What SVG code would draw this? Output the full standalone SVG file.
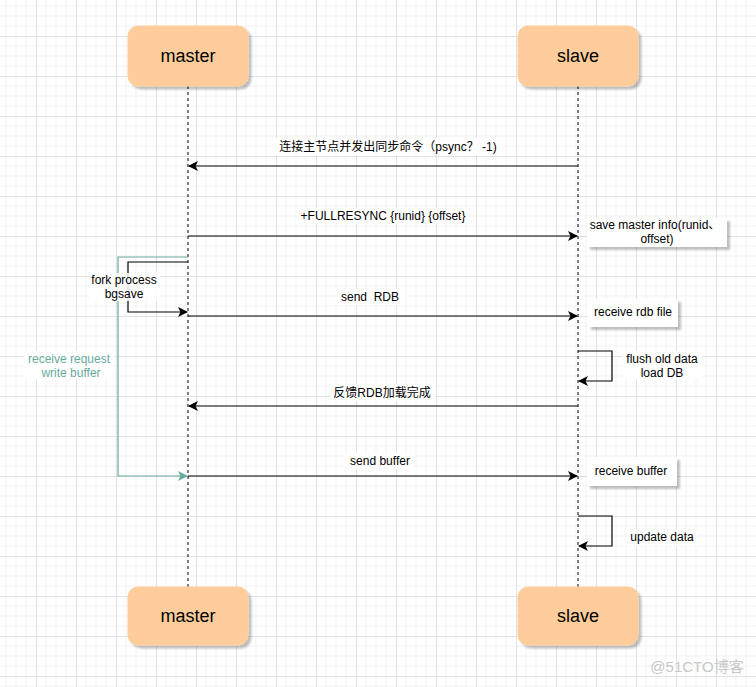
<svg xmlns="http://www.w3.org/2000/svg" width="756" height="687" viewBox="0 0 756 687">
<defs>
<pattern id="grid" x="36" y="36" width="40" height="40" patternUnits="userSpaceOnUse">
<path d="M10 0V40M20 0V40M30 0V40M0 10H40M0 20H40M0 30H40" stroke="#f3f3f3" stroke-width="1" fill="none"/>
<path d="M0.5 0V40M0 0.5H40" stroke="#e2e2e2" stroke-width="1" fill="none"/>
</pattern>
<marker id="ah" viewBox="0 0 10 10" refX="9" refY="5" markerWidth="10" markerHeight="10" markerUnits="userSpaceOnUse" orient="auto">
<path d="M0 0L10 5L0 10L2.5 5Z" fill="#000"/>
</marker>
<marker id="ahg" viewBox="0 0 10 10" refX="9" refY="5" markerWidth="10" markerHeight="10" markerUnits="userSpaceOnUse" orient="auto">
<path d="M0 0L10 5L0 10L2.5 5Z" fill="#67ab9f"/>
</marker>
<filter id="sh" x="-10%" y="-10%" width="130%" height="140%">
<feGaussianBlur in="SourceAlpha" stdDeviation="1"/>
<feOffset dx="3" dy="3"/>
<feComponentTransfer><feFuncA type="linear" slope="0.25"/></feComponentTransfer>
<feMerge><feMergeNode/><feMergeNode in="SourceGraphic"/></feMerge>
</filter>
</defs>
<style>
.t{font-family:"Liberation Sans","Noto Sans CJK SC",Arial,sans-serif;font-size:12px;fill:#000;text-anchor:middle;white-space:pre}
.big{font-size:18px}
.g{fill:#67ab9f}
.box{fill:#ffcd9b;stroke:#ffcd9b;filter:url(#sh)}
.note{fill:#fff;stroke:none;filter:url(#sh)}
.life{stroke:#000;stroke-width:1;stroke-dasharray:3 3;fill:none}
.msg{stroke:#000;stroke-width:1.2;fill:none;marker-end:url(#ah)}
.gm{stroke:#67ab9f;stroke-width:1.2;fill:none;marker-end:url(#ahg)}
.bg{fill:#fff}
</style>
<rect width="756" height="687" fill="#fff"/>
<rect width="756" height="687" fill="url(#grid)"/>

<g id="lifelines">
<line class="life" x1="188" y1="86" x2="188" y2="587"/>
<line class="life" x1="578" y1="86" x2="578" y2="587"/>
</g>

<g id="master-top"><rect class="box" x="128" y="26" width="120" height="60" rx="10"/><text class="t big" x="188" y="62">master</text></g>
<g id="slave-top"><rect class="box" x="518" y="26" width="120" height="60" rx="10"/><text class="t big" x="578" y="62">slave</text></g>
<g id="master-bottom"><rect class="box" x="128" y="587" width="120" height="58" rx="10"/><text class="t big" x="188" y="622">master</text></g>
<g id="slave-bottom"><rect class="box" x="518" y="587" width="120" height="58" rx="10"/><text class="t big" x="578" y="622">slave</text></g>

<g id="note-save"><rect class="note" x="587" y="218" width="140" height="29"/><text class="t" x="655" y="229">save master info(runid、</text><text class="t" x="657" y="243">offset)</text></g>
<g id="note-rdb"><rect class="note" x="588" y="299" width="90" height="28"/><text class="t" x="633" y="316">receive rdb file</text></g>
<g id="note-buffer"><rect class="note" x="587" y="457" width="90" height="29"/><text class="t" x="631" y="475">receive buffer</text></g>

<g id="connectors">
<path class="gm" d="M188 257H118V476H187"/>
<path class="msg" d="M578 166H189"/>
<path class="msg" d="M188 236H577"/>
<path class="msg" d="M188 262H128V312H187"/>
<path class="msg" d="M188 316H577"/>
<path class="msg" d="M578 351H612V381H579"/>
<path class="msg" d="M578 406H189"/>
<path class="msg" d="M188 476H577"/>
<path class="msg" d="M578 516H612V546H579"/>
</g>

<g id="labels">
<rect class="bg" x="275" y="138" width="228" height="17"/>
<text class="t" x="388" y="151">连接主节点并发出同步命令（psync？ -1)</text>
<rect class="bg" x="296" y="208" width="172" height="16"/>
<text class="t" x="383" y="220">+FULLRESYNC {runid} {offset}</text>
<rect class="bg" x="90" y="273" width="70" height="28" fill-opacity="0.85"/>
<text class="t" x="124" y="284">fork process</text>
<text class="t" x="124" y="298">bgsave</text>
<rect class="bg" x="335" y="289" width="70" height="16"/>
<text class="t" x="370" y="301">send  RDB</text>
<rect class="bg" x="24" y="351" width="90" height="28"/>
<text class="t g" x="69" y="363">receive request</text>
<text class="t g" x="71" y="377">write buffer</text>
<rect class="bg" x="622" y="351" width="80" height="28"/>
<text class="t" x="662" y="363">flush old data</text>
<text class="t" x="662" y="377">load DB</text>
<rect class="bg" x="331" y="384" width="104" height="17"/>
<text class="t" x="382" y="397">反馈RDB加载完成</text>
<rect class="bg" x="345" y="453" width="70" height="16"/>
<text class="t" x="380" y="465">send buffer</text>
<rect class="bg" x="626" y="530" width="72" height="16"/>
<text class="t" x="662" y="541">update data</text>
</g>

<text x="697" y="672" style="font-family:'Liberation Sans','Noto Sans CJK SC',sans-serif;font-size:15px;fill:#c8c8c8;text-anchor:middle">@51CTO博客</text>
</svg>
